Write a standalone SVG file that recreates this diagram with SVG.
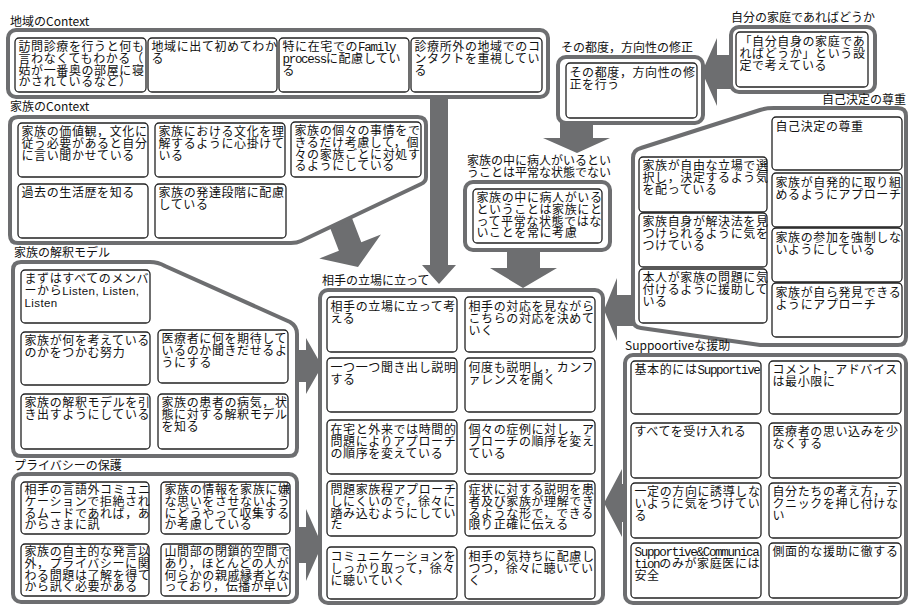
<svg xmlns="http://www.w3.org/2000/svg" width="908" height="606" viewBox="0 0 908 606">
<style>
.g{fill:#fff;stroke:#6d6e70;stroke-width:4}
.b{fill:#fff;stroke:#222;stroke-width:1.3}
.a{fill:#6d6e70}
.t{font-family:"Noto Sans CJK JP","Noto Sans CJK SC",sans-serif;font-size:12px;letter-spacing:.6px;fill:#111}
.l{font-family:"Noto Sans CJK JP","Noto Sans CJK SC",sans-serif;font-size:12px;fill:#111}
.m{font-family:"Liberation Mono",monospace;font-size:12.5px;letter-spacing:-1.3px}
.p{font-family:"Liberation Sans",sans-serif;font-size:11.5px;letter-spacing:.4px}
</style>
<rect width="908" height="606" fill="#fff"/>
<g id="connectors">
<polygon class="a" points="430,95 448,95 448,265 456,265 439,284 422,265 430,265"/>
<polygon class="a" points="326.3,218.1 348.7,209.5 361.3,242.2 380.9,234.6 358,267 319.3,258.4 338.9,250.8"/>
<polygon class="a" points="294,350 306,350 306,338 322,366 306,394 306,382 294,382"/>
<polygon class="a" points="294,527 306,527 306,509 322,545 306,581 306,563 294,563"/>
<polygon class="a" points="735,55 717,55 717,38 702,72 717,106 717,89 735,89"/>
<polygon class="a" points="560,121 593,121 593,138 610,138 577,153 543,138 560,138"/>
<polygon class="a" points="507,248 540,248 540,268 557,268 523,288 490,268 507,268"/>
<polygon class="a" points="636,295 617,295 617,278 604,310 617,341 617,326 636,326"/>
<polygon class="a" points="628,484 622,484 622,469 604,503 622,537 622,522 628,522"/>
</g>

<g id="chiiki">
<text class="l" x="10" y="26">地域のContext</text>
<rect class="g" x="8" y="30" width="540" height="67" rx="8"/>
<g id="n1"><rect class="b" x="15" y="38" width="131" height="54" rx="4"/>
<text class="t" x="18.5" y="51"><tspan x="18.5">訪問診療を行うと何も</tspan><tspan x="18.5" dy="11.8">言わなくてもわかる（</tspan><tspan x="18.5" dy="11.8">姑が一番奥の部屋に寝</tspan><tspan x="18.5" dy="11.8">かされているなど）</tspan></text></g>
<g id="n2"><rect class="b" x="148" y="38" width="129" height="54" rx="4"/>
<text class="t" x="151.5" y="51"><tspan x="151.5">地域に出て初めてわか</tspan><tspan x="151.5" dy="11.8">る</tspan></text></g>
<g id="n3"><rect class="b" x="279" y="38" width="130" height="54" rx="4"/>
<text class="t" x="282.5" y="51"><tspan x="282.5">特に在宅での<tspan class="m">Family</tspan></tspan><tspan x="282.5" dy="11.8"><tspan class="m">process</tspan>に配慮してい</tspan><tspan x="282.5" dy="11.8">る</tspan></text></g>
<g id="n4"><rect class="b" x="411" y="38" width="131" height="54" rx="4"/>
<text class="t" x="414.5" y="51"><tspan x="414.5">診療所外の地域でのコ</tspan><tspan x="414.5" dy="11.8">ンタクトを重視してい</tspan><tspan x="414.5" dy="11.8">る</tspan></text></g>
</g>

<g id="kazoku-context">
<text class="l" x="10" y="111">家族のContext</text>
<path class="g" d="M10,125 Q10,117 18,117 H418 Q426,117 426,125 V177 Q426,182 421,184 L301,241 Q297,243 291,243 H18 Q10,243 10,235 Z"/>
<g id="n5"><rect class="b" x="18" y="123" width="130" height="54" rx="4"/>
<text class="t" x="21.5" y="136"><tspan x="21.5">家族の価値観，文化に</tspan><tspan x="21.5" dy="11.8">従う必要があると自分</tspan><tspan x="21.5" dy="11.8">に言い聞かせている</tspan></text></g>
<g id="n6"><rect class="b" x="155" y="123" width="130" height="54" rx="4"/>
<text class="t" x="158.5" y="136"><tspan x="158.5">家族における文化を理</tspan><tspan x="158.5" dy="11.8">解するように心掛けて</tspan><tspan x="158.5" dy="11.8">いる</tspan></text></g>
<g id="n7"><rect class="b" x="291" y="122" width="130" height="55" rx="4"/>
<text class="t" x="294.5" y="135"><tspan x="294.5">家族の個々の事情をで</tspan><tspan x="294.5" dy="11.8">きるだけ考慮して，個</tspan><tspan x="294.5" dy="11.8">々の家族ごとに対処す</tspan><tspan x="294.5" dy="11.8">るようにしている</tspan></text></g>
<g id="n8"><rect class="b" x="18" y="184" width="130" height="54" rx="4"/>
<text class="t" x="21.5" y="197">過去の生活歴を知る</text></g>
<g id="n9"><rect class="b" x="155" y="184" width="131" height="54" rx="4"/>
<text class="t" x="158.5" y="197"><tspan x="158.5">家族の発達段階に配慮</tspan><tspan x="158.5" dy="11.8">している</tspan></text></g>
</g>

<g id="kaishaku">
<text class="l" x="14" y="257">家族の解釈モデル</text>
<path class="g" d="M13,270 Q13,262 21,262 H150 Q158,262 165,266 L290,322 Q297,326 297,334 V448 Q297,456 289,456 H21 Q13,456 13,448 Z"/>
<g id="n10"><rect class="b" x="21" y="270" width="129" height="53" rx="4"/>
<text class="t" x="24.5" y="283"><tspan x="24.5">まずはすべてのメンバ</tspan><tspan x="24.5" dy="11.8">ーから<tspan class="p">Listen, Listen,</tspan></tspan><tspan x="24.5" dy="11.8"><tspan class="p">Listen</tspan></tspan></text></g>
<g id="n11"><rect class="b" x="21" y="332" width="129" height="53" rx="4"/>
<text class="t" x="24.5" y="345"><tspan x="24.5">家族が何を考えている</tspan><tspan x="24.5" dy="11.8">のかをつかむ努力</tspan></text></g>
<g id="n12"><rect class="b" x="158" y="330" width="130" height="53" rx="4"/>
<text class="t" x="161.5" y="343"><tspan x="161.5">医療者に何を期待して</tspan><tspan x="161.5" dy="11.8">いるのか聞きだせるよ</tspan><tspan x="161.5" dy="11.8">うにする</tspan></text></g>
<g id="n13"><rect class="b" x="21" y="394" width="129" height="55" rx="4"/>
<text class="t" x="24.5" y="407"><tspan x="24.5">家族の解釈モデルを引</tspan><tspan x="24.5" dy="11.8">き出すようにしている</tspan></text></g>
<g id="n14"><rect class="b" x="158" y="394" width="130" height="55" rx="4"/>
<text class="t" x="161.5" y="407"><tspan x="161.5">家族の患者の病気，状</tspan><tspan x="161.5" dy="11.8">態に対する解釈モデル</tspan><tspan x="161.5" dy="11.8">を知る</tspan></text></g>
</g>

<g id="privacy">
<text class="l" x="14" y="470">プライバシーの保護</text>
<rect class="g" x="13" y="474" width="284" height="128" rx="8"/>
<g id="n15"><rect class="b" x="21" y="482" width="128" height="52" rx="4"/>
<text class="t" x="24.5" y="494"><tspan x="24.5">相手の言語外コミュニ</tspan><tspan x="24.5" dy="11.8">ケーションで拒絶され</tspan><tspan x="24.5" dy="11.8">るムードであれば，あ</tspan><tspan x="24.5" dy="11.8">からさまに訊</tspan></text></g>
<g id="n16"><rect class="b" x="161" y="482" width="129" height="52" rx="4"/>
<text class="t" x="164.5" y="494"><tspan x="164.5">家族の情報を家族に嫌</tspan><tspan x="164.5" dy="11.8">な思いをさせないよう</tspan><tspan x="164.5" dy="11.8">にどうやって収集する</tspan><tspan x="164.5" dy="11.8">か考慮している</tspan></text></g>
<g id="n17"><rect class="b" x="21" y="544" width="128" height="52" rx="4"/>
<text class="t" x="24.5" y="556"><tspan x="24.5">家族の自主的な発言以</tspan><tspan x="24.5" dy="11.8">外，プライバシーに関</tspan><tspan x="24.5" dy="11.8">わる問題は了解を得て</tspan><tspan x="24.5" dy="11.8">から訊く必要がある</tspan></text></g>
<g id="n18"><rect class="b" x="161" y="544" width="129" height="52" rx="4"/>
<text class="t" x="164.5" y="556"><tspan x="164.5">山間部の閉鎖的空間で</tspan><tspan x="164.5" dy="11.8">あり，ほとんどの人が</tspan><tspan x="164.5" dy="11.8">何らかの親戚縁者とな</tspan><tspan x="164.5" dy="11.8">っており，伝播が早い</tspan></text></g>
</g>

<g id="aite">
<text class="l" x="322" y="285">相手の立場に立って</text>
<rect class="g" x="320" y="290" width="283" height="313" rx="8"/>
<g id="n19"><rect class="b" x="327" y="297" width="130" height="55" rx="4"/>
<text class="t" x="330.5" y="311"><tspan x="330.5">相手の立場に立って考</tspan><tspan x="330.5" dy="11.8">える</tspan></text></g>
<g id="n20"><rect class="b" x="465" y="297" width="130" height="55" rx="4"/>
<text class="t" x="468.5" y="311"><tspan x="468.5">相手の対応を見ながら</tspan><tspan x="468.5" dy="11.8">こちらの対応を決めて</tspan><tspan x="468.5" dy="11.8">いく</tspan></text></g>
<g id="n21"><rect class="b" x="327" y="358" width="130" height="54" rx="4"/>
<text class="t" x="330.5" y="372"><tspan x="330.5">一つ一つ聞き出し説明</tspan><tspan x="330.5" dy="11.8">する</tspan></text></g>
<g id="n22"><rect class="b" x="465" y="358" width="130" height="54" rx="4"/>
<text class="t" x="468.5" y="372"><tspan x="468.5">何度も説明し，カンフ</tspan><tspan x="468.5" dy="11.8">ァレンスを開く</tspan></text></g>
<g id="n23"><rect class="b" x="327" y="420" width="130" height="54" rx="4"/>
<text class="t" x="330.5" y="434"><tspan x="330.5">在宅と外来では時間的</tspan><tspan x="330.5" dy="11.8">問題によりアプローチ</tspan><tspan x="330.5" dy="11.8">の順序を変えている</tspan></text></g>
<g id="n24"><rect class="b" x="465" y="420" width="130" height="54" rx="4"/>
<text class="t" x="468.5" y="434"><tspan x="468.5">個々の症例に対し，ア</tspan><tspan x="468.5" dy="11.8">プローチの順序を変え</tspan><tspan x="468.5" dy="11.8">ている</tspan></text></g>
<g id="n25"><rect class="b" x="327" y="481" width="130" height="55" rx="4"/>
<text class="t" x="330.5" y="494"><tspan x="330.5">問題家族程アプローチ</tspan><tspan x="330.5" dy="11.8">しにくいので，徐々に</tspan><tspan x="330.5" dy="11.8">踏み込むようにしてい</tspan><tspan x="330.5" dy="11.8">た</tspan></text></g>
<g id="n26"><rect class="b" x="465" y="481" width="130" height="55" rx="4"/>
<text class="t" x="468.5" y="494"><tspan x="468.5">症状に対する説明を患</tspan><tspan x="468.5" dy="11.8">者及び家族が理解でき</tspan><tspan x="468.5" dy="11.8">るような形で，できる</tspan><tspan x="468.5" dy="11.8">限り正確に伝える</tspan></text></g>
<g id="n27"><rect class="b" x="327" y="547" width="130" height="52" rx="4"/>
<text class="t" x="330.5" y="561"><tspan x="330.5">コミュニケーションを</tspan><tspan x="330.5" dy="11.8">しっかり取って，徐々</tspan><tspan x="330.5" dy="11.8">に聴いていく</tspan></text></g>
<g id="n28"><rect class="b" x="465" y="547" width="130" height="52" rx="4"/>
<text class="t" x="468.5" y="561"><tspan x="468.5">相手の気持ちに配慮し</tspan><tspan x="468.5" dy="11.8">つつ，徐々に聴いてい</tspan><tspan x="468.5" dy="11.8">く</tspan></text></g>
</g>

<g id="sonotsudo">
<text class="l" x="561" y="52">その都度，方向性の修正</text>
<rect class="g" x="558" y="57" width="145" height="66" rx="8"/>
<g id="n29"><rect class="b" x="566" y="63" width="131" height="55" rx="4"/>
<text class="t" x="569.5" y="77"><tspan x="569.5">その都度，方向性の修</tspan><tspan x="569.5" dy="11.8">正を行う</tspan></text></g>
</g>

<g id="jibun">
<text class="l" x="731" y="22">自分の家庭であればどうか</text>
<rect class="g" x="731" y="27" width="144" height="65" rx="8"/>
<g id="n30"><rect class="b" x="736" y="32" width="132" height="55" rx="4"/>
<text class="t" x="739.5" y="46"><tspan x="739.5">「自分自身の家庭であ</tspan><tspan x="739.5" dy="11.8">ればどうか」という設</tspan><tspan x="739.5" dy="11.8">定で考えている</tspan></text></g>
</g>

<g id="byonin">
<text class="l" x="467" y="165"><tspan x="467">家族の中に病人がいるとい</tspan><tspan x="467" dy="11.8">うことは平常な状態でない</tspan></text>
<rect class="g" x="465" y="182" width="145" height="68" rx="8"/>
<g id="n31"><rect class="b" x="473" y="189" width="129" height="54" rx="4"/>
<text class="t" x="476.5" y="202"><tspan x="476.5">家族の中に病人がいる</tspan><tspan x="476.5" dy="11.8">ということは家族にと</tspan><tspan x="476.5" dy="11.8">って平常な状態ではな</tspan><tspan x="476.5" dy="11.8">いことを常に考慮</tspan></text></g>
</g>

<g id="jiko">
<text class="l" x="822" y="104">自己決定の尊重</text>
<path class="g" d="M633,158 Q633,150 641,148 L760,110 Q766,108 774,108 H898 Q906,108 906,116 V337 Q906,345 898,345 H760 L641,328 Q633,327 633,319 Z"/>
<g id="n32"><rect class="b" x="772" y="117" width="130" height="53" rx="4"/>
<text class="t" x="775.5" y="131">自己決定の尊重</text></g>
<g id="n33"><rect class="b" x="639" y="157" width="128" height="55" rx="4"/>
<text class="t" x="642.5" y="170"><tspan x="642.5">家族が自由な立場で選</tspan><tspan x="642.5" dy="11.8">択し，決定するよう気</tspan><tspan x="642.5" dy="11.8">を配っている</tspan></text></g>
<g id="n34"><rect class="b" x="772" y="173" width="130" height="54" rx="4"/>
<text class="t" x="775.5" y="187"><tspan x="775.5">家族が自発的に取り組</tspan><tspan x="775.5" dy="11.8">めるようにアプローチ</tspan></text></g>
<g id="n35"><rect class="b" x="639" y="213" width="128" height="54" rx="4"/>
<text class="t" x="642.5" y="226"><tspan x="642.5">家族自身が解決法を見</tspan><tspan x="642.5" dy="11.8">つけられるように気を</tspan><tspan x="642.5" dy="11.8">つけている</tspan></text></g>
<g id="n36"><rect class="b" x="772" y="228" width="130" height="54" rx="4"/>
<text class="t" x="775.5" y="242"><tspan x="775.5">家族の参加を強制しな</tspan><tspan x="775.5" dy="11.8">いようにしている</tspan></text></g>
<g id="n37"><rect class="b" x="639" y="269" width="128" height="54" rx="4"/>
<text class="t" x="642.5" y="282"><tspan x="642.5">本人が家族の問題に気</tspan><tspan x="642.5" dy="11.8">付けるように援助して</tspan><tspan x="642.5" dy="11.8">いる</tspan></text></g>
<g id="n38"><rect class="b" x="772" y="283" width="130" height="54" rx="4"/>
<text class="t" x="775.5" y="297"><tspan x="775.5">家族が自ら発見できる</tspan><tspan x="775.5" dy="11.8">ようにアプローチ</tspan></text></g>
</g>

<g id="supportive">
<text class="l" x="625" y="350">Suppoortiveな援助</text>
<rect class="g" x="625" y="355" width="281" height="248" rx="8"/>
<g id="n39"><rect class="b" x="631" y="361" width="130" height="53" rx="4"/>
<text class="t" x="634.5" y="374">基本的には<tspan class="m">Supportive</tspan></text></g>
<g id="n40"><rect class="b" x="769" y="361" width="132" height="53" rx="4"/>
<text class="t" x="772.5" y="374"><tspan x="772.5">コメント，アドバイス</tspan><tspan x="772.5" dy="11.8">は最小限に</tspan></text></g>
<g id="n41"><rect class="b" x="631" y="423" width="130" height="55" rx="4"/>
<text class="t" x="634.5" y="436">すべてを受け入れる</text></g>
<g id="n42"><rect class="b" x="769" y="423" width="132" height="55" rx="4"/>
<text class="t" x="772.5" y="436"><tspan x="772.5">医療者の思い込みを少</tspan><tspan x="772.5" dy="11.8">なくする</tspan></text></g>
<g id="n43"><rect class="b" x="631" y="483" width="130" height="55" rx="4"/>
<text class="t" x="634.5" y="496"><tspan x="634.5">一定の方向に誘導しな</tspan><tspan x="634.5" dy="11.8">いように気をつけてい</tspan><tspan x="634.5" dy="11.8">る</tspan></text></g>
<g id="n44"><rect class="b" x="769" y="483" width="132" height="55" rx="4"/>
<text class="t" x="772.5" y="496"><tspan x="772.5">自分たちの考え方，テ</tspan><tspan x="772.5" dy="11.8">クニックを押し付けな</tspan><tspan x="772.5" dy="11.8">い</tspan></text></g>
<g id="n45"><rect class="b" x="631" y="543" width="130" height="55" rx="4"/>
<text class="t" x="634.5" y="556"><tspan x="634.5"><tspan class="m">Supportive&amp;Communica</tspan></tspan><tspan x="634.5" dy="11.8"><tspan class="m">tion</tspan>のみが家庭医には</tspan><tspan x="634.5" dy="11.8">安全</tspan></text></g>
<g id="n46"><rect class="b" x="769" y="543" width="132" height="55" rx="4"/>
<text class="t" x="772.5" y="556">側面的な援助に徹する</text></g>
</g>
</svg>
